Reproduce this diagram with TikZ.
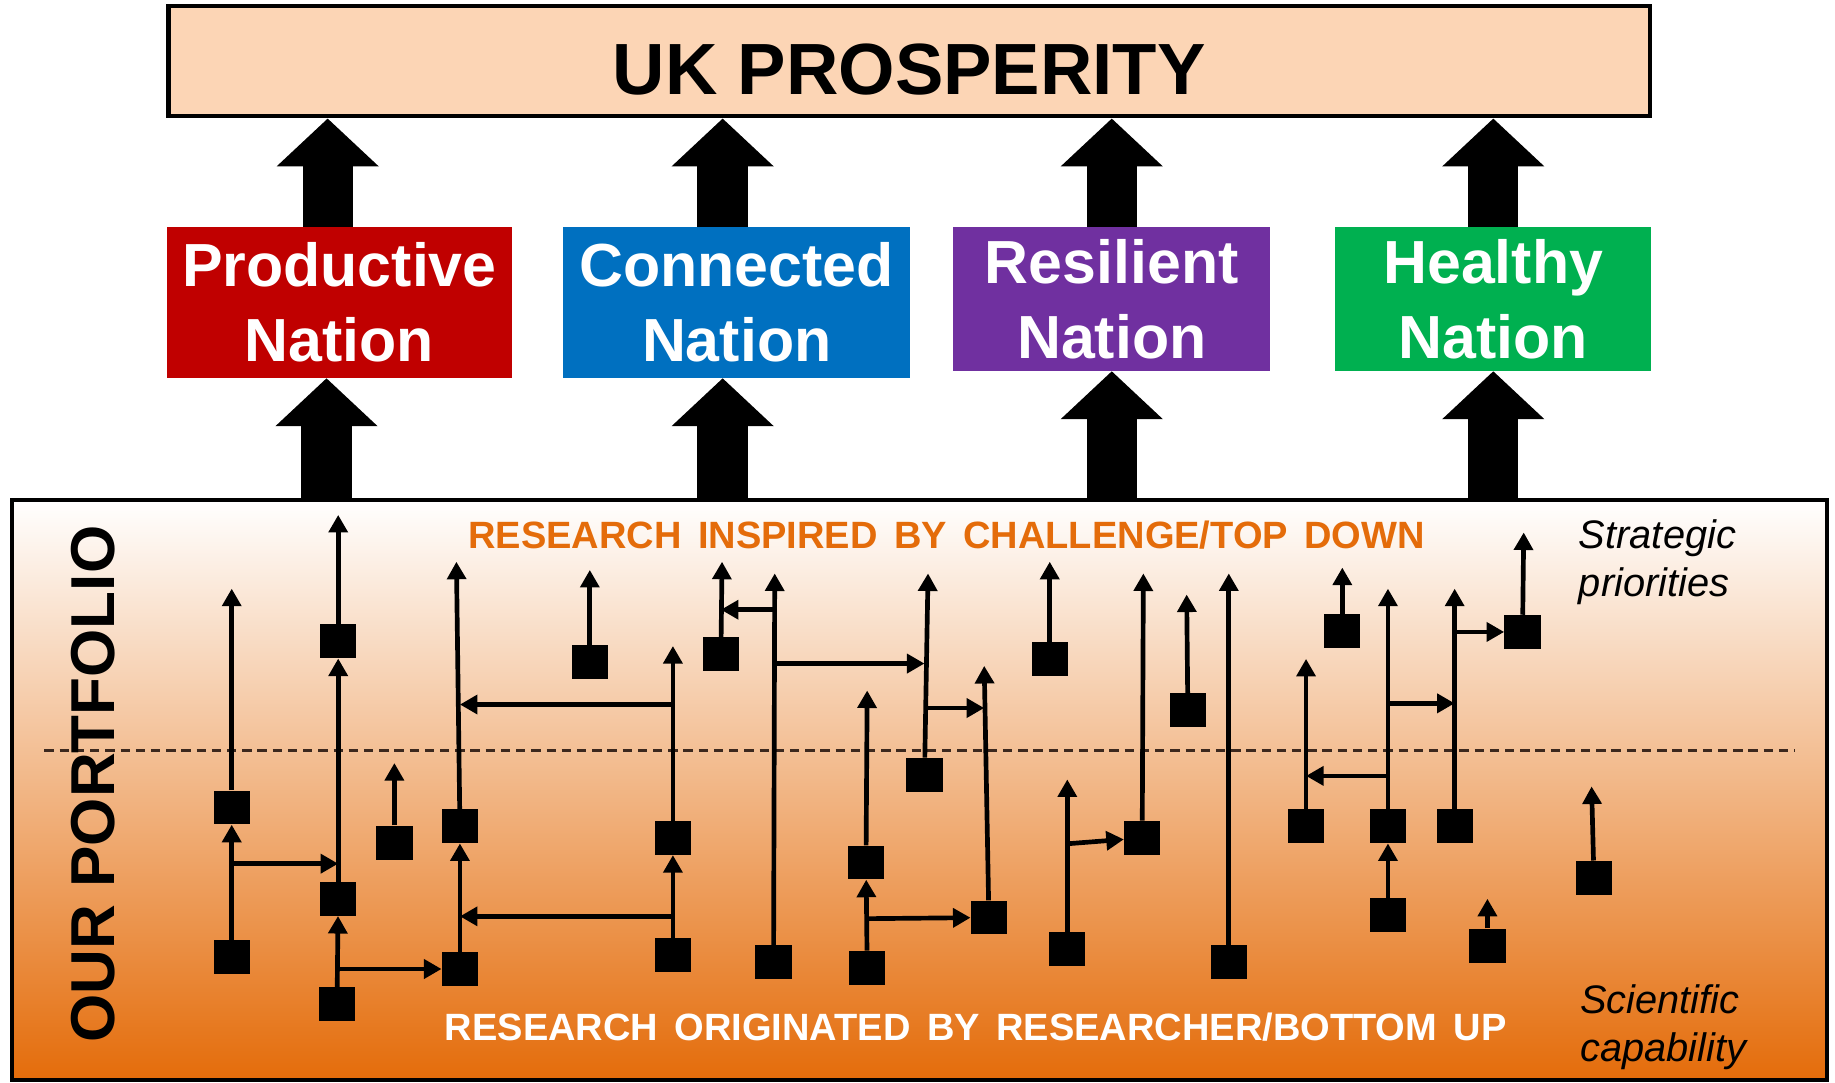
\documentclass[tikz,border=0pt]{standalone}
\usepackage{fontspec}
\setmainfont{Liberation Sans}
\newfontfamily\widesans[WordSpace=1.55]{Liberation Sans}
\usetikzlibrary{arrows.meta,calc}
\definecolor{ukpeach}{RGB}{252,213,181}
\definecolor{prodred}{RGB}{192,0,0}
\definecolor{connblue}{RGB}{0,112,192}
\definecolor{resilpurple}{RGB}{112,48,160}
\definecolor{healthgreen}{RGB}{0,176,80}
\definecolor{portorange}{RGB}{228,108,10}
\definecolor{dashbrown}{RGB}{60,40,30}

\begin{document}
\begin{tikzpicture}[x=1pt,y=-1pt,
        nation/.style = {text=white, align=center, inner sep=0pt, minimum height=129pt,
                font=\fontsize{52}{64}\selectfont\bfseries},
        big/.style = {line width=43pt, -{Triangle[length=41pt,width=85pt]}},
        sq/.style = {fill=black, minimum width=31pt, minimum height=29pt, inner sep=0pt},
        lnk/.style = {line width=4pt, -{Triangle[length=15pt,width=16pt]}},
        label/.style = {anchor=base west, inner sep=0pt},
        research/.style = {label, font=\widesans\fontsize{32.5}{39}\selectfont\bfseries},
        aside/.style = {label, align=left, font=\fontsize{34}{41}\selectfont\itshape}]
        \useasboundingbox (0,0) rectangle (1568,925);

        \node[draw, line width=3.5pt, fill=ukpeach, minimum width=1266pt, minimum height=94pt,
                text height=57pt, text depth=0pt, font=\fontsize{62}{70}\selectfont\bfseries]
                (uk) at (777,52.5) {UK PROSPERITY};
        \node[nation, fill=prodred, minimum width=295pt] (prod) at (290,258.5) {Productive\\Nation};
        \node[nation, fill=connblue, minimum width=296pt] (conn) at (629.5,258.5) {Connected\\Nation};
        \node[nation, fill=resilpurple, minimum width=271pt, minimum height=123pt] (resil) at (950,255.5) {Resilient\\Nation};
        \node[nation, fill=healthgreen, minimum width=270pt, minimum height=123pt] (health) at (1276,255.5) {Healthy\\Nation};

        \node[draw, line width=3.5pt, top color=white, bottom color=portorange,
                minimum width=1551pt, minimum height=496pt, inner sep=0pt] (port) at (785.5,675) {};
        \draw[dashbrown, line width=2.3pt, dash pattern=on 8pt off 5pt] (38,641) -- (1534,641);

        \node[rotate=90, inner sep=0pt, font=\fontsize{53}{60}\selectfont\bfseries] (our) at (80,670) {OUR PORTFOLIO};
        \node[research, text=portorange] (topdown) at (400,469) {RESEARCH INSPIRED BY CHALLENGE/TOP DOWN};
        \node[research, text=white] (bottomup) at (380,889) {RESEARCH ORIGINATED BY RESEARCHER/BOTTOM UP};
        \node[aside] (strat) at (1349,510) {Strategic\\priorities};
        \node[aside] (sci) at (1350,907) {Scientific\\capability};

        \node[sq] (1) at (198,690) {};
        \node[sq] (2) at (198,818) {};
        \node[sq] (3) at (289,548) {};
        \node[sq] (4) at (289,768) {};
        \node[sq] (5) at (288,858) {};
        \node[sq] (6) at (337,720) {};
        \node[sq] (7) at (393,706) {};
        \node[sq] (8) at (393,828) {};
        \node[sq] (9) at (504,566) {};
        \node[sq] (10) at (575,716) {};
        \node[sq] (11) at (575,816) {};
        \node[sq] (12) at (616,559) {};
        \node[sq] (13) at (661,822) {};
        \node[sq] (14) at (790,662) {};
        \node[sq] (15) at (845,784) {};
        \node[sq] (16) at (740,737) {};
        \node[sq] (17) at (741,827) {};
        \node[sq] (18) at (897,563) {};
        \node[sq] (19) at (912,811) {};
        \node[sq] (20) at (976,716) {};
        \node[sq] (21) at (1015,607) {};
        \node[sq] (22) at (1050,822) {};
        \node[sq] (23) at (1116,706) {};
        \node[sq] (24) at (1147,539) {};
        \node[sq] (25) at (1186,706) {};
        \node[sq] (26) at (1186,782) {};
        \node[sq] (27) at (1243,706) {};
        \node[sq] (28) at (1301,540) {};
        \node[sq] (29) at (1271,808) {};
        \node[sq] (30) at (1362,750) {};

        \coordinate (t1) at (198,503);
        \coordinate (t3) at (289,440);
        \coordinate (t6) at (337,652);
        \coordinate (t7) at (390,480);
        \coordinate (t9) at (504,487);
        \coordinate (t10) at (575,552);
        \coordinate (t12) at (617,480);
        \coordinate (t13) at (662,490);
        \coordinate (t14) at (793,490);
        \coordinate (t15) at (841,569);
        \coordinate (t16) at (741,590);
        \coordinate (t18) at (897,480);
        \coordinate (t19) at (912,666);
        \coordinate (t20) at (977,490);
        \coordinate (t21) at (1014,508);
        \coordinate (t22) at (1050,490);
        \coordinate (t23) at (1116,563);
        \coordinate (t24) at (1147,485);
        \coordinate (t25) at (1186,503);
        \coordinate (t27) at (1243,503);
        \coordinate (t28) at (1302,455);
        \coordinate (t29) at (1271,768);
        \coordinate (t30) at (1360,672);

        \draw[lnk] (1) -- (t1);
        \draw[lnk] (2) -- (1);
        \draw[lnk] (3) -- (t3);
        \draw[lnk] (4) -- (3);
        \draw[lnk] (5) -- (4);
        \draw[lnk] (6) -- (t6);
        \draw[lnk] (7) -- (t7);
        \draw[lnk] (8) -- (7);
        \draw[lnk] (9) -- (t9);
        \draw[lnk] (10) -- (t10);
        \draw[lnk] (11) -- (10);
        \draw[lnk] (12) -- (t12);
        \draw[lnk] (13) -- (t13);
        \draw[lnk] (14) -- (t14);
        \draw[lnk] (15) -- (t15);
        \draw[lnk] (16) -- (t16);
        \draw[lnk] (17) -- (16);
        \draw[lnk] (18) -- (t18);
        \draw[lnk] (19) -- (t19);
        \draw[lnk] (20) -- (t20);
        \draw[lnk] (21) -- (t21);
        \draw[lnk] (22) -- (t22);
        \draw[lnk] (23) -- (t23);
        \draw[lnk] (24) -- (t24);
        \draw[lnk] (25) -- (t25);
        \draw[lnk] (26) -- (25);
        \draw[lnk] (27) -- (t27);
        \draw[lnk] (28) -- (t28);
        \draw[lnk] (29) -- (t29);
        \draw[lnk] (30) -- (t30);

        \draw[lnk] (2 |- 0,738) -- (4 |- 0,738);
        \draw[lnk] (5 |- 0,828) -- (8);
        \draw[lnk] (10 |- 0,602) -- (7 |- 0,602);
        \draw[lnk] (11 |- 0,783) -- (8 |- 0,783);
        \draw[lnk] (13 |- 0,521) -- (12 |- 0,521);
        \draw[lnk] (13 |- 0,567) -- (14 |- 0,567);
        \draw[lnk] (14 |- 0,605) -- (t15 |- 0,605);
        \draw[lnk] (17 |- 0,785) -- (15);
        \draw[lnk] (19 |- 0,721) -- (20);
        \draw[lnk] (25 |- 0,663) -- (23 |- 0,663);
        \draw[lnk] (25 |- 0,601) -- (27 |- 0,601);
        \draw[lnk] (27 |- 0,540) -- (28);

        \draw[big] ($(prod.north)+(-10,0)$) -- ($(prod.north |- uk.south)+(-10,0)$);
        \draw[big] ($(conn.north)+(-12,0)$) -- ($(conn.north |- uk.south)+(-12,0)$);
        \draw[big] (resil.north) -- (resil.north |- uk.south);
        \draw[big] (health.north) -- (health.north |- uk.south);
        \draw[big] ($(prod.south |- port.north)+(-11,0)$) -- ($(prod.south)+(-11,0)$);
        \draw[big] ($(conn.south |- port.north)+(-12,0)$) -- ($(conn.south)+(-12,0)$);
        \draw[big] (resil.south |- port.north) -- (resil.south);
        \draw[big] (health.south |- port.north) -- (health.south);
\end{tikzpicture}
\end{document}
